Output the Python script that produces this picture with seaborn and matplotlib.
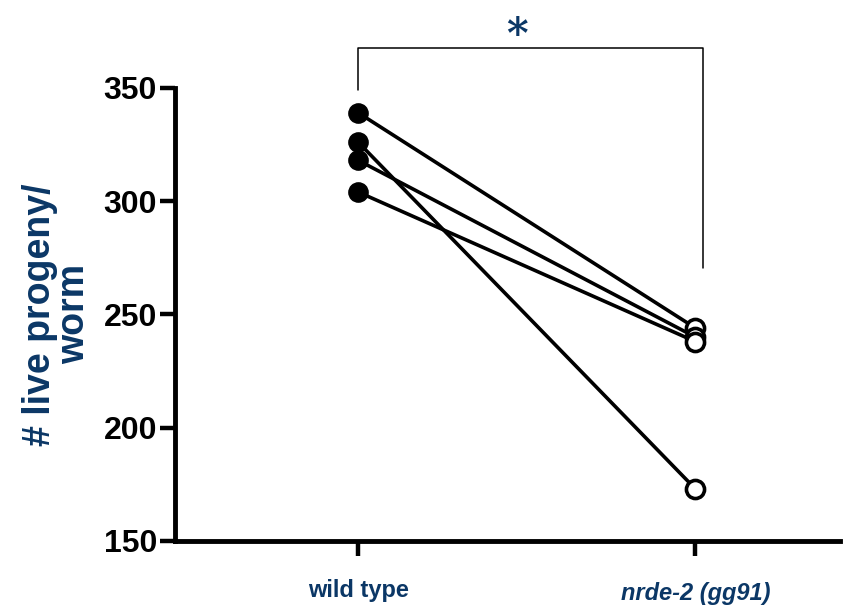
import pandas as pd
import matplotlib
matplotlib.use("Agg")
import matplotlib.pyplot as plt
import seaborn as sns

# data
groups = ["wild type", "nrde-2 (gg91)"]
worms = ["w1", "w2", "w3", "w4"]
wild_type = [339, 326, 318, 304]
nrde2 = [244, 173, 240, 238]
yticks = [150, 200, 250, 300, 350]

navy = "#0b3766"

rows = []
for i, w in enumerate(worms):
    rows.append({"worm": w, "pos": 0, "progeny": wild_type[i]})
    rows.append({"worm": w, "pos": 1, "progeny": nrde2[i]})
df = pd.DataFrame(rows)

sns.set_style("ticks")
plt.rcParams["font.family"] = ["Liberation Sans", "DejaVu Sans"]

fig = plt.figure(figsize=(8.54, 6.14), dpi=100)
ax = fig.add_axes([0.205, 0.119, 0.779, 0.738])

sns.lineplot(data=df, x="pos", y="progeny", units="worm", estimator=None,
             color="black", linewidth=2.6, ax=ax, legend=False)
sns.scatterplot(data=df[df["pos"] == 0], x="pos", y="progeny", s=190,
                color="black", edgecolor="black", zorder=3, ax=ax, legend=False)
sns.scatterplot(data=df[df["pos"] == 1], x="pos", y="progeny", s=170,
                facecolor="white", edgecolor="black", linewidth=2.6,
                zorder=3, ax=ax, legend=False)

ax.set_xlim(-0.543, 1.43)
ax.set_ylim(150, 350)
ax.set_yticks(yticks)
ax.set_yticklabels([str(t) for t in yticks], fontsize=23, fontweight="bold",
                   color="black")
ax.set_xticks([0, 1])
ax.set_xticklabels([])
ax.tick_params(axis="y", length=11, width=3.2, pad=2, color="black")
ax.tick_params(axis="x", length=11, width=3.2, color="black")
for s in ["left", "bottom"]:
    ax.spines[s].set_linewidth(3.5)
    ax.spines[s].set_color("black")
sns.despine(ax=ax)

ax.set_xlabel("")
ax.set_ylabel("# live progeny/\nworm", fontsize=27, fontweight="bold",
              color=navy, labelpad=8, linespacing=0.95)

# group labels under the axis
ax.text(0, -0.11, groups[0], transform=ax.get_xaxis_transform(),
        ha="center", va="center", fontsize=17, fontweight="bold", color=navy)
ax.text(1, -0.115, groups[1], transform=ax.get_xaxis_transform(),
        ha="center", va="center", fontsize=17, fontweight="bold",
        style="italic", color=navy)

# significance bracket
ax.plot([0, 0, 1.024, 1.024], [349, 367.7, 367.7, 270.5], color="black",
        linewidth=1.1, clip_on=False)
ax.text(0.47, 373, "*", ha="center", va="center", fontsize=30,
        fontweight="bold", color=navy, family="DejaVu Serif")

fig.savefig("out.png", dpi=100)
